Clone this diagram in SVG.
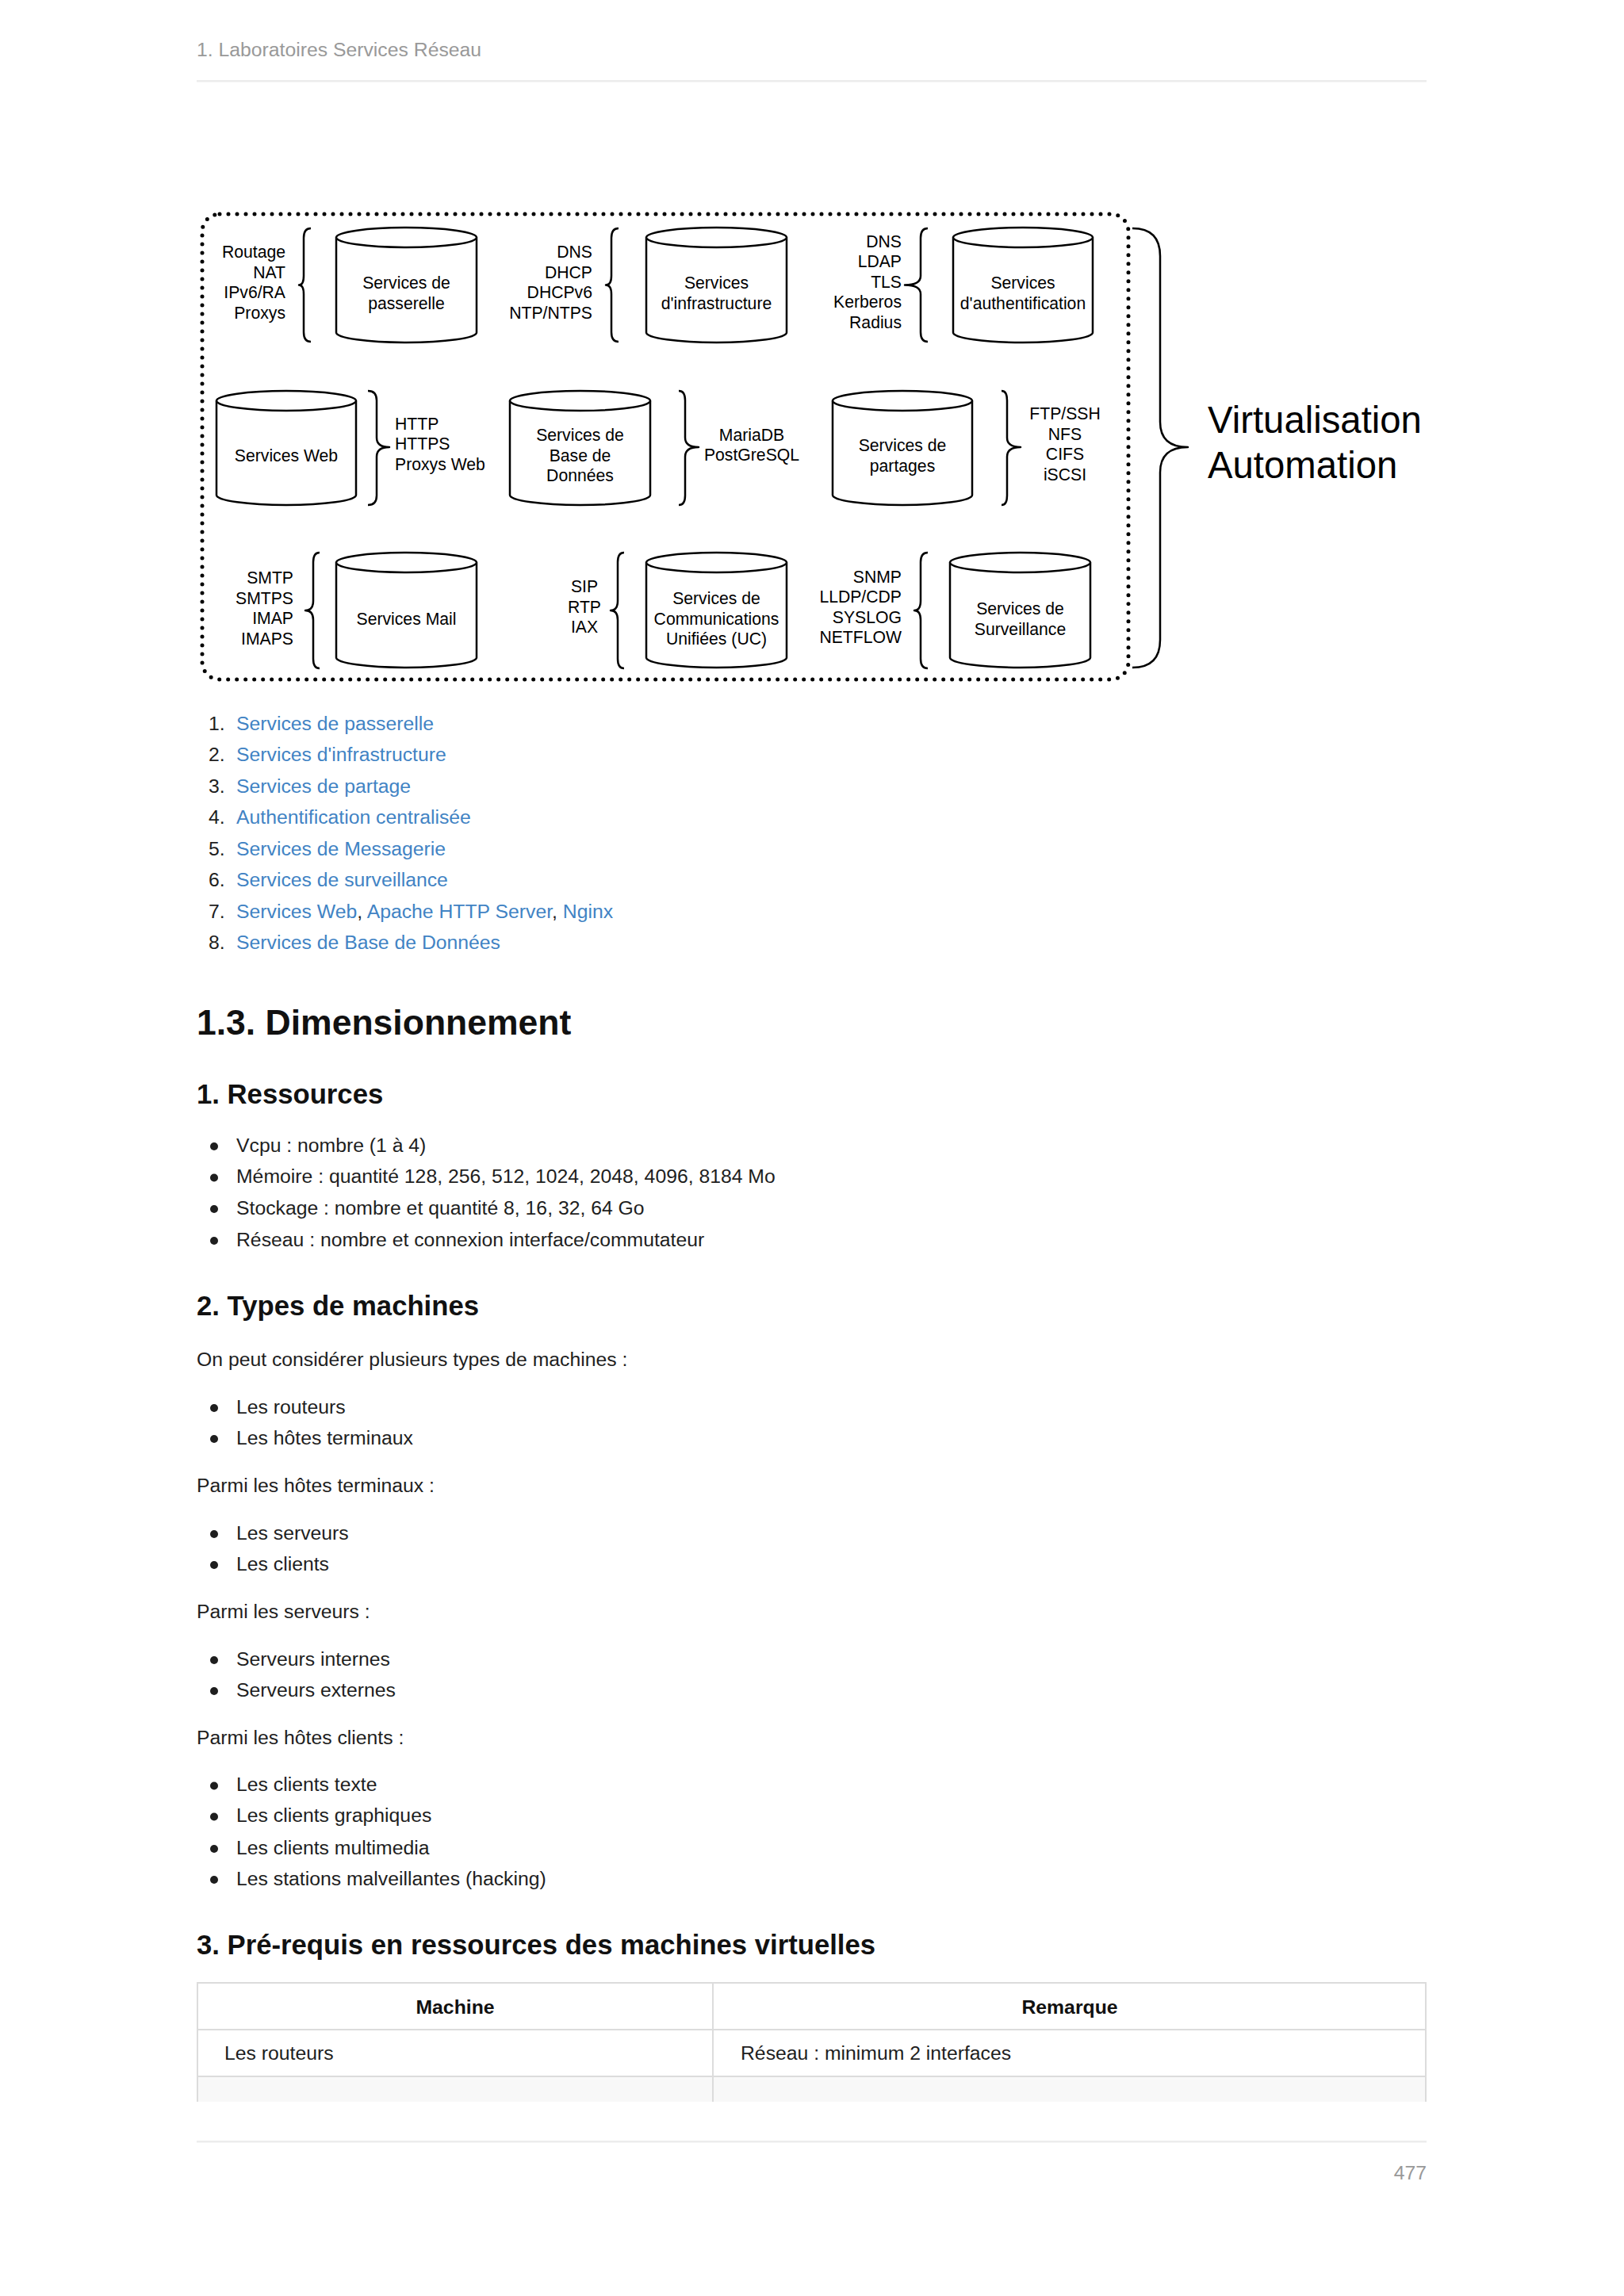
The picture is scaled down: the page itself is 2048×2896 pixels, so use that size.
<svg xmlns="http://www.w3.org/2000/svg" width="2048" height="2896" viewBox="0 0 2048 2896">
<style>
.pg{font-family:"Liberation Sans",Arial,sans-serif;font-size:24.75px;fill:#1e1e1e}
.gray{fill:#999}
.lk{fill:#4183c4}
.b{font-weight:bold;fill:#111}
.h1{font-size:44.5px}
.h2{font-size:34.7px}
.d{font-family:"Liberation Sans",Arial,sans-serif;font-size:21.2px;fill:#000}
.big{font-size:47.3px}
.cyl{fill:#fff;stroke:#000;stroke-width:2.5}
.br{fill:none;stroke:#000;stroke-width:2.5;stroke-linejoin:round}
.dot{fill:none;stroke:#000;stroke-width:5;stroke-linecap:round;stroke-dasharray:0 11}
.mid{text-anchor:middle}
.end{text-anchor:end}
.rule{fill:#ececec}
.tb{fill:none;stroke:#dcdcdc;stroke-width:2}
</style>
<rect width="2048" height="2896" fill="#fff"/>

<!-- page header -->
<text class="pg gray" x="248" y="71">1. Laboratoires Services Réseau</text>
<rect class="rule" x="248" y="101" width="1551" height="2.5"/>

<!-- diagram -->
<g id="frame">
<rect class="dot" x="255" y="270" width="1168" height="587" rx="22" ry="22"/>
</g>

<g id="connectors">
<path class="br" d="M392,288 Q383,288 383,300 L383,348 Q383,359.5 377,359.5 Q383,359.5 383,371 L383,419 Q383,431 392,431"/>
<path class="br" d="M780,288 Q771,288 771,300 L771,348 Q771,359.5 764,359.5 Q771,359.5 771,371 L771,419 Q771,431 780,431"/>
<path class="br" d="M1170,288 Q1161,288 1161,300 L1161,348 Q1161,359.5 1141,359.5 Q1161,359.5 1161,371 L1161,419 Q1161,431 1170,431"/>
<path class="br" d="M464,493 Q475,493 475,505 L475,552 Q475,564 491,564 Q475,564 475,576 L475,625 Q475,637 464,637"/>
<path class="br" d="M856,493 Q864,493 864,505 L864,552 Q864,564 881,564 Q864,564 864,576 L864,625 Q864,637 856,637"/>
<path class="br" d="M1263,493 Q1270,493 1270,505 L1270,552 Q1270,564 1287,564 Q1270,564 1270,576 L1270,625 Q1270,637 1263,637"/>
<path class="br" d="M403,697 Q395,697 395,709 L395,758 Q395,770 385,770 Q395,770 395,782 L395,831 Q395,843 403,843"/>
<path class="br" d="M787,697 Q779,697 779,709 L779,758 Q779,770 770,770 Q779,770 779,782 L779,831 Q779,843 787,843"/>
<path class="br" d="M1170,697 Q1161,697 1161,709 L1161,758 Q1161,770 1153,770 Q1161,770 1161,782 L1161,831 Q1161,843 1170,843"/>
<path class="br" d="M1428,288 Q1463,288 1463,323 L1463,532 Q1463,564 1498,564 Q1463,564 1463,596 L1463,807 Q1463,842 1428,842"/>
</g>

<g id="n-passerelle">
<path class="cyl" d="M424,299.5 V419.5 A88.5,12.5 0 0 0 601,419.5 V299.5"/>
<ellipse class="cyl" cx="512.5" cy="299.5" rx="88.5" ry="12.5"/>
<text class="d mid" x="512.5" y="364">Services de</text>
<text class="d mid" x="512.5" y="389.5">passerelle</text>
</g>
<g id="n-infrastructure">
<path class="cyl" d="M815,299.5 V419.5 A88.5,12.5 0 0 0 992,419.5 V299.5"/>
<ellipse class="cyl" cx="903.5" cy="299.5" rx="88.5" ry="12.5"/>
<text class="d mid" x="903.5" y="364">Services</text>
<text class="d mid" x="903.5" y="389.5">d'infrastructure</text>
</g>
<g id="n-authentification">
<path class="cyl" d="M1202,299.5 V419.5 A88,12.5 0 0 0 1378,419.5 V299.5"/>
<ellipse class="cyl" cx="1290" cy="299.5" rx="88" ry="12.5"/>
<text class="d mid" x="1290" y="364">Services</text>
<text class="d mid" x="1290" y="389.5">d'authentification</text>
</g>
<g id="n-web">
<path class="cyl" d="M273,505.5 V624.5 A88,12.5 0 0 0 449,624.5 V505.5"/>
<ellipse class="cyl" cx="361" cy="505.5" rx="88" ry="12.5"/>
<text class="d mid" x="361" y="582">Services Web</text>
</g>
<g id="n-bdd">
<path class="cyl" d="M643,505.5 V624.5 A88.5,12.5 0 0 0 820,624.5 V505.5"/>
<ellipse class="cyl" cx="731.5" cy="505.5" rx="88.5" ry="12.5"/>
<text class="d mid" x="731.5" y="556">Services de</text>
<text class="d mid" x="731.5" y="581.5">Base de</text>
<text class="d mid" x="731.5" y="607">Données</text>
</g>
<g id="n-partages">
<path class="cyl" d="M1050,505.5 V624.5 A88,12.5 0 0 0 1226,624.5 V505.5"/>
<ellipse class="cyl" cx="1138" cy="505.5" rx="88" ry="12.5"/>
<text class="d mid" x="1138" y="569">Services de</text>
<text class="d mid" x="1138" y="594.5">partages</text>
</g>
<g id="n-mail">
<path class="cyl" d="M424,709.5 V829.5 A88.5,12.5 0 0 0 601,829.5 V709.5"/>
<ellipse class="cyl" cx="512.5" cy="709.5" rx="88.5" ry="12.5"/>
<text class="d mid" x="512.5" y="787.5">Services Mail</text>
</g>
<g id="n-uc">
<path class="cyl" d="M815,709.5 V829.5 A88.5,12.5 0 0 0 992,829.5 V709.5"/>
<ellipse class="cyl" cx="903.5" cy="709.5" rx="88.5" ry="12.5"/>
<text class="d mid" x="903.5" y="762">Services de</text>
<text class="d mid" x="903.5" y="787.5">Communications</text>
<text class="d mid" x="903.5" y="813">Unifiées (UC)</text>
</g>
<g id="n-surveillance">
<path class="cyl" d="M1198,709.5 V829.5 A88.5,12.5 0 0 0 1375,829.5 V709.5"/>
<ellipse class="cyl" cx="1286.5" cy="709.5" rx="88.5" ry="12.5"/>
<text class="d mid" x="1286.5" y="775">Services de</text>
<text class="d mid" x="1286.5" y="800.5">Surveillance</text>
</g>

<g id="p-passerelle">
<text class="d end" x="360" y="325">Routage</text>
<text class="d end" x="360" y="350.5">NAT</text>
<text class="d end" x="360" y="376">IPv6/RA</text>
<text class="d end" x="360" y="401.5">Proxys</text>
</g>
<g id="p-infrastructure">
<text class="d end" x="747" y="325">DNS</text>
<text class="d end" x="747" y="350.5">DHCP</text>
<text class="d end" x="747" y="376">DHCPv6</text>
<text class="d end" x="747" y="401.5">NTP/NTPS</text>
</g>
<g id="p-authentification">
<text class="d end" x="1137" y="311.5">DNS</text>
<text class="d end" x="1137" y="337">LDAP</text>
<text class="d end" x="1137" y="362.5">TLS</text>
<text class="d end" x="1137" y="388">Kerberos</text>
<text class="d end" x="1137" y="413.5">Radius</text>
</g>
<g id="p-web">
<text class="d" x="498" y="541.5">HTTP</text>
<text class="d" x="498" y="567">HTTPS</text>
<text class="d" x="498" y="592.5">Proxys Web</text>
</g>
<g id="p-bdd">
<text class="d mid" x="948" y="555.5">MariaDB</text>
<text class="d mid" x="948" y="581">PostGreSQL</text>
</g>
<g id="p-partages">
<text class="d mid" x="1343" y="529">FTP/SSH</text>
<text class="d mid" x="1343" y="554.5">NFS</text>
<text class="d mid" x="1343" y="580">CIFS</text>
<text class="d mid" x="1343" y="605.5">iSCSI</text>
</g>
<g id="p-mail">
<text class="d end" x="370" y="736">SMTP</text>
<text class="d end" x="370" y="761.5">SMTPS</text>
<text class="d end" x="370" y="787">IMAP</text>
<text class="d end" x="370" y="812.5">IMAPS</text>
</g>
<g id="p-uc">
<text class="d mid" x="737" y="747">SIP</text>
<text class="d mid" x="737" y="772.5">RTP</text>
<text class="d mid" x="737" y="798">IAX</text>
</g>
<g id="p-surveillance">
<text class="d end" x="1137" y="734.5">SNMP</text>
<text class="d end" x="1137" y="760">LLDP/CDP</text>
<text class="d end" x="1137" y="785.5">SYSLOG</text>
<text class="d end" x="1137" y="811">NETFLOW</text>
</g>
<g id="n-virtualisation">
<text class="d big" x="1523" y="546">Virtualisation</text>
<text class="d big" x="1523" y="603">Automation</text>
</g>

<!-- numbered list -->
<g id="list-services">
<text class="pg" x="263" y="920.5">1.</text><text class="pg lk" x="298" y="920.5">Services de passerelle</text>
<text class="pg" x="263" y="960">2.</text><text class="pg lk" x="298" y="960">Services d'infrastructure</text>
<text class="pg" x="263" y="999.5">3.</text><text class="pg lk" x="298" y="999.5">Services de partage</text>
<text class="pg" x="263" y="1039">4.</text><text class="pg lk" x="298" y="1039">Authentification centralisée</text>
<text class="pg" x="263" y="1078.5">5.</text><text class="pg lk" x="298" y="1078.5">Services de Messagerie</text>
<text class="pg" x="263" y="1118">6.</text><text class="pg lk" x="298" y="1118">Services de surveillance</text>
<text class="pg" x="263" y="1157.5">7.</text><text class="pg" x="298" y="1157.5"><tspan class="lk">Services Web</tspan>, <tspan class="lk">Apache HTTP Server</tspan>, <tspan class="lk">Nginx</tspan></text>
<text class="pg" x="263" y="1197">8.</text><text class="pg lk" x="298" y="1197">Services de Base de Données</text>
</g>

<text class="pg b h1" x="248" y="1305">1.3. Dimensionnement</text>
<text class="pg b h2" x="248" y="1392">1. Ressources</text>

<g fill="#1e1e1e">
<circle cx="270" cy="1446" r="5"/>
<circle cx="270" cy="1485.5" r="5"/>
<circle cx="270" cy="1525" r="5"/>
<circle cx="270" cy="1565" r="5"/>
<circle cx="270" cy="1776" r="5"/>
<circle cx="270" cy="1815" r="5"/>
<circle cx="270" cy="1935" r="5"/>
<circle cx="270" cy="1974" r="5"/>
<circle cx="270" cy="2094" r="5"/>
<circle cx="270" cy="2133" r="5"/>
<circle cx="270" cy="2252.5" r="5"/>
<circle cx="270" cy="2291.5" r="5"/>
<circle cx="270" cy="2332" r="5"/>
<circle cx="270" cy="2371" r="5"/>
</g>
<text class="pg" x="298" y="1452.5">Vcpu : nombre (1 à 4)</text>
<text class="pg" x="298" y="1492">Mémoire : quantité 128, 256, 512, 1024, 2048, 4096, 8184 Mo</text>
<text class="pg" x="298" y="1531.5">Stockage : nombre et quantité 8, 16, 32, 64 Go</text>
<text class="pg" x="298" y="1571.5">Réseau : nombre et connexion interface/commutateur</text>

<text class="pg b h2" x="248" y="1659">2. Types de machines</text>
<text class="pg" x="248" y="1723">On peut considérer plusieurs types de machines :</text>
<text class="pg" x="298" y="1782.5">Les routeurs</text>
<text class="pg" x="298" y="1821.5">Les hôtes terminaux</text>
<text class="pg" x="248" y="1882">Parmi les hôtes terminaux :</text>
<text class="pg" x="298" y="1941.5">Les serveurs</text>
<text class="pg" x="298" y="1980.5">Les clients</text>
<text class="pg" x="248" y="2041">Parmi les serveurs :</text>
<text class="pg" x="298" y="2100.5">Serveurs internes</text>
<text class="pg" x="298" y="2139.5">Serveurs externes</text>
<text class="pg" x="248" y="2200">Parmi les hôtes clients :</text>
<text class="pg" x="298" y="2259">Les clients texte</text>
<text class="pg" x="298" y="2298">Les clients graphiques</text>
<text class="pg" x="298" y="2338.5">Les clients multimedia</text>
<text class="pg" x="298" y="2377.5">Les stations malveillantes (hacking)</text>

<text class="pg b h2" x="248" y="2464.5">3. Pré-requis en ressources des machines virtuelles</text>

<!-- table -->
<g id="table">
<rect x="249" y="2620" width="1549" height="31" fill="#f8f8f8"/>
<line class="tb" x1="248" y1="2501" x2="1799" y2="2501"/>
<line class="tb" x1="248" y1="2560" x2="1799" y2="2560"/>
<line class="tb" x1="248" y1="2619" x2="1799" y2="2619"/>
<line class="tb" x1="249" y1="2500" x2="249" y2="2651"/>
<line class="tb" x1="899" y1="2500" x2="899" y2="2651"/>
<line class="tb" x1="1798" y1="2500" x2="1798" y2="2651"/>
<text class="pg b mid" x="574" y="2540">Machine</text>
<text class="pg b mid" x="1349" y="2540">Remarque</text>
<text class="pg" x="283" y="2598">Les routeurs</text>
<text class="pg" x="934" y="2598">Réseau : minimum 2 interfaces</text>
</g>

<!-- footer -->
<rect class="rule" x="248" y="2700" width="1551" height="2.5"/>
<text class="pg gray end" x="1799" y="2749">477</text>
</svg>
